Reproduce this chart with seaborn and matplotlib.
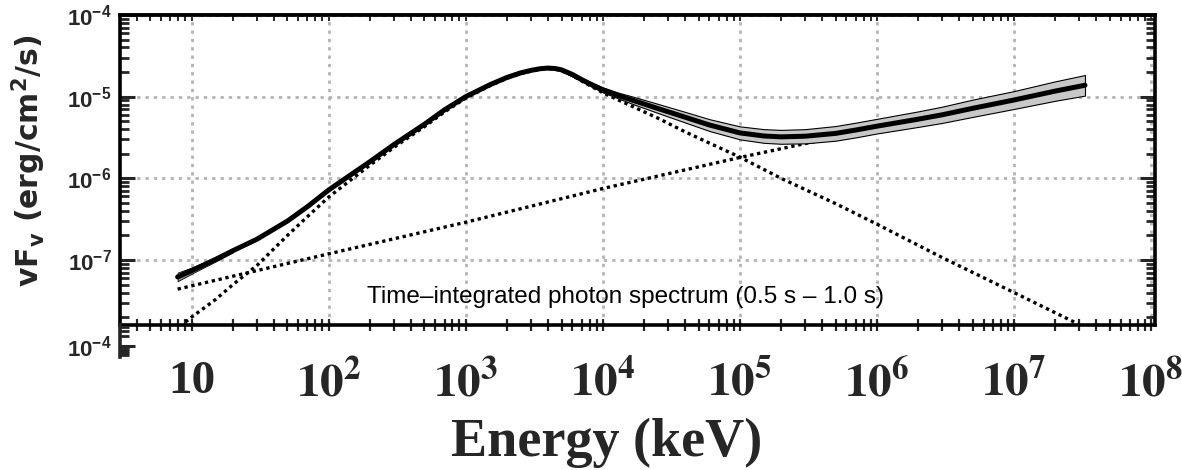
import matplotlib
matplotlib.use("Agg")
import matplotlib.pyplot as plt
import numpy as np
import pandas as pd
import seaborn as sns
from matplotlib.ticker import LogLocator, NullFormatter

# ---------------- data ----------------
# total model (thick black line)
energy = [7.9, 10, 15, 20, 30, 50, 70, 100, 150, 200, 300, 500, 700, 1e3, 1.5e3, 2e3,
          2.5e3, 3e3, 3.5e3, 4e3, 4.5e3, 5e3, 6e3, 7e3, 8.5e3, 1e4, 1.3e4, 1.7e4,
          2.5e4, 4e4, 6e4, 1e5, 1.5e5, 2e5, 3e5, 5e5, 7e5, 1e6, 2e6, 3e6, 5e6, 1e7,
          2e7, 3.3e7]
total_flux = [6.2e-8, 7.4e-8, 1.02e-7, 1.3e-7, 1.8e-7, 3.0e-7, 4.5e-7, 7.2e-7, 1.15e-6,
              1.6e-6, 2.6e-6, 4.6e-6, 6.9e-6, 1.0e-5, 1.4e-5, 1.72e-5, 1.95e-5, 2.1e-5,
              2.2e-5, 2.24e-5, 2.21e-5, 2.13e-5, 1.87e-5, 1.62e-5, 1.37e-5, 1.21e-5,
              1.03e-5, 8.9e-6, 7.2e-6, 5.6e-6, 4.5e-6, 3.6e-6, 3.3e-6, 3.22e-6, 3.28e-6,
              3.55e-6, 3.9e-6, 4.35e-6, 5.3e-6, 6.0e-6, 7.2e-6, 9.1e-6, 1.17e-5, 1.38e-5]

# uncertainty envelope (grey band), low-energy and high-energy parts
unc_energy_low = [7.9, 10, 15, 20]
unc_lo_low = [5.5e-8, 6.8e-8, 9.6e-8, 1.24e-7]
unc_hi_low = [7.0e-8, 8.1e-8, 1.08e-7, 1.36e-7]
unc_energy = [5e3, 7e3, 1e4, 1.3e4, 1.7e4, 2.5e4, 4e4, 6e4, 1e5, 1.5e5, 2e5, 3e5, 5e5,
              7e5, 1e6, 2e6, 3e6, 5e6, 1e7, 2e7, 3.3e7]
unc_hi = [2.2e-5, 1.70e-5, 1.30e-5, 1.12e-5, 9.9e-6, 8.2e-6, 6.5e-6, 5.3e-6, 4.33e-6,
          4.0e-6, 3.92e-6, 4.0e-6, 4.37e-6, 4.8e-6, 5.35e-6, 6.6e-6, 7.55e-6, 9.2e-6,
          1.17e-5, 1.54e-5, 1.84e-5]
unc_lo = [2.06e-5, 1.55e-5, 1.13e-5, 9.5e-6, 8.0e-6, 6.35e-6, 4.82e-6, 3.8e-6, 3.0e-6,
          2.72e-6, 2.65e-6, 2.68e-6, 2.89e-6, 3.17e-6, 3.54e-6, 4.26e-6, 4.77e-6, 5.65e-6,
          7.07e-6, 8.9e-6, 1.03e-5]

# Band-function component (dotted, peaked)
band_energy = [9, 10, 15, 20, 30, 50, 70, 100, 150, 200, 300, 500, 700, 1e3, 1.5e3, 2e3,
               2.5e3, 3e3, 3.5e3, 4e3, 4.5e3, 5e3, 6e3, 7e3, 8.5e3, 1e4, 1.3e4, 1.7e4,
               2.5e4, 4e4, 6e4, 1e5, 2e5, 5e5, 1e6, 3e6, 1e7, 3e7]
band_flux = [1.74e-8, 2.0e-8, 3.3e-8, 5.0e-8, 8.6e-8, 2.0e-7, 3.4e-7, 5.9e-7, 1.0e-6,
             1.45e-6, 2.4e-6, 4.3e-6, 6.5e-6, 9.6e-6, 1.36e-5, 1.68e-5, 1.91e-5, 2.06e-5,
             2.16e-5, 2.2e-5, 2.17e-5, 2.08e-5, 1.82e-5, 1.56e-5, 1.3e-5, 1.12e-5,
             9.1e-6, 7.4e-6, 5.5e-6, 3.7e-6, 2.7e-6, 1.82e-6, 1.0e-6, 4.9e-7, 2.75e-7,
             1.07e-7, 4.0e-8, 1.62e-8]

# power-law component (dotted, rising)
pl_energy = [7.9, 100, 1e3, 1e4, 1e5, 1e6, 1e7, 3.3e7]
pl_flux = [4.4e-8, 1.19e-7, 2.9e-7, 7.5e-7, 1.8e-6, 4.1e-6, 9.0e-6, 1.38e-5]

x_ticks = [10, 1e2, 1e3, 1e4, 1e5, 1e6, 1e7, 1e8]
x_ticklabels = ["10", r"$\mathbf{10^{2}}$", r"$\mathbf{10^{3}}$", r"$\mathbf{10^{4}}$",
                r"$\mathbf{10^{5}}$", r"$\mathbf{10^{6}}$", r"$\mathbf{10^{7}}$",
                r"$\mathbf{10^{8}}$"]
y_ticks = [1e-7, 1e-6, 1e-5, 1e-4]
y_ticklabels = [r"$\mathbf{10^{-7}}$", r"$\mathbf{10^{-6}}$", r"$\mathbf{10^{-5}}$",
                r"$\mathbf{10^{-4}}$"]
annotation = "Time\u2013integrated photon spectrum (0.5 s \u2013 1.0 s)"

# ---------------- style ----------------
sns.set_theme(style="ticks")
plt.rcParams["font.family"] = ["Liberation Sans", "DejaVu Sans"]
plt.rcParams.update({
    "mathtext.fontset": "custom",
    "mathtext.rm": "Liberation Sans",
    "mathtext.bf": "Liberation Sans:bold",
    "mathtext.it": "Liberation Sans:italic",
})

W, H = 1182, 470
fig = plt.figure(figsize=(W / 100, H / 100), dpi=100)
L, R, T, B = 120, 1155, 15, 325
ax = fig.add_axes([L / W, 1 - B / H, (R - L) / W, (B - T) / H])
ax.set_xscale("log")
ax.set_yscale("log")

df_tot = pd.DataFrame({"E": energy, "F": total_flux})
df_band = pd.DataFrame({"E": band_energy, "F": band_flux})
df_pl = pd.DataFrame({"E": pl_energy, "F": pl_flux})

ax.fill_between(unc_energy, unc_lo, unc_hi, facecolor="#c8c8c8", edgecolor="black",
                linewidth=0.8, zorder=3)
ax.fill_between(unc_energy_low, unc_lo_low, unc_hi_low, facecolor="#9a9a9a",
                edgecolor="black", linewidth=0.6, zorder=3)
sns.lineplot(data=df_tot, x="E", y="F", color="black", linewidth=3.6, ax=ax, zorder=4)
sns.lineplot(data=df_band, x="E", y="F", color="black", linewidth=2.4,
             linestyle=(0, (1, 1.1)), ax=ax, zorder=2)
sns.lineplot(data=df_pl, x="E", y="F", color="black", linewidth=2.4,
             linestyle=(0, (1, 1.1)), ax=ax, zorder=2)

ax.set_xlim(3.0, 1.07e8)
ax.set_ylim(1.6e-8, 1e-4)

ax.grid(True, which="major", color="#b4b4b4", linestyle=(0, (1.2, 1.8)), linewidth=2.0)
ax.set_axisbelow(True)
for s in ax.spines.values():
    s.set_linewidth(2.6)
    s.set_color("black")

ax.set_xticks(x_ticks, x_ticklabels)
ax.xaxis.set_minor_locator(LogLocator(base=10, subs=np.arange(2, 10), numticks=20))
ax.xaxis.set_minor_formatter(NullFormatter())
ax.set_yticks(y_ticks, y_ticklabels)
ax.yaxis.set_minor_locator(LogLocator(base=10, subs=np.arange(2, 10), numticks=20))
ax.yaxis.set_minor_formatter(NullFormatter())

ax.tick_params(axis="x", which="both", direction="inout", length=8, width=1.6,
               bottom=True, top=False, pad=22)
ax.tick_params(axis="y", which="major", direction="in", length=11, width=2.2,
               left=True, right=True, labelsize=16, pad=6)
ax.tick_params(axis="y", which="minor", direction="in", length=6.5, width=2.0,
               left=True, right=True)
for lbl in ax.get_xticklabels():
    lbl.set_fontfamily(["Liberation Serif", "DejaVu Serif"])
    lbl.set_fontweight("bold")
    lbl.set_fontsize(34)
    lbl.set_math_fontfamily("stix")

secx = ax.secondary_xaxis("top")
secx.tick_params(which="both", direction="in", length=4, width=1.4, labeltop=False)
secx.xaxis.set_minor_locator(LogLocator(base=10, subs=np.arange(2, 10), numticks=20))
secx.xaxis.set_minor_formatter(NullFormatter())
secx.xaxis.set_major_formatter(NullFormatter())
secx.spines["top"].set_linewidth(2.6)

ax.set_xlabel("Energy (keV)", fontsize=39, fontweight="bold",
              fontfamily=["Liberation Serif", "DejaVu Serif"])
ax.xaxis.set_label_coords(0.47, -0.3)
ax.set_ylabel(r"$\mathbf{vF_{v}}$ (erg/cm$^{\mathbf{2}}$/s)", fontsize=21.5,
              fontweight="bold", fontfamily=["DejaVu Sans"])
ax.yaxis.label.set_math_fontfamily("dejavusans")
ax.yaxis.set_label_coords(-0.07, 0.53)

ax.text(0.488, 0.09, annotation, transform=ax.transAxes, ha="center", va="center",
        fontsize=17.5, color="black", zorder=6)

# thin lower panel that peeks out below the main frame
ax2 = fig.add_axes([L / W, 1 - 357 / H, (R - L) / W, 32 / H])
ax2.set_yscale("log")
ax2.set_ylim(10 ** -4.35, 10 ** -3.35)
ax2.patch.set_visible(False)
for side in ["top", "right", "bottom"]:
    ax2.spines[side].set_visible(False)
ax2.spines["left"].set_linewidth(2.6)
ax2.set_xticks([])
ax2.set_yticks([1e-4], [r"$\mathbf{10^{-4}}$"])
ax2.yaxis.set_minor_locator(LogLocator(base=10, subs=np.arange(2, 10), numticks=20))
ax2.yaxis.set_minor_formatter(NullFormatter())
ax2.tick_params(axis="y", which="major", direction="in", length=11, width=2.2,
                labelsize=16, pad=6)
ax2.tick_params(axis="y", which="minor", direction="in", length=6.5, width=2.0)

fig.savefig("out.png", dpi=100)
